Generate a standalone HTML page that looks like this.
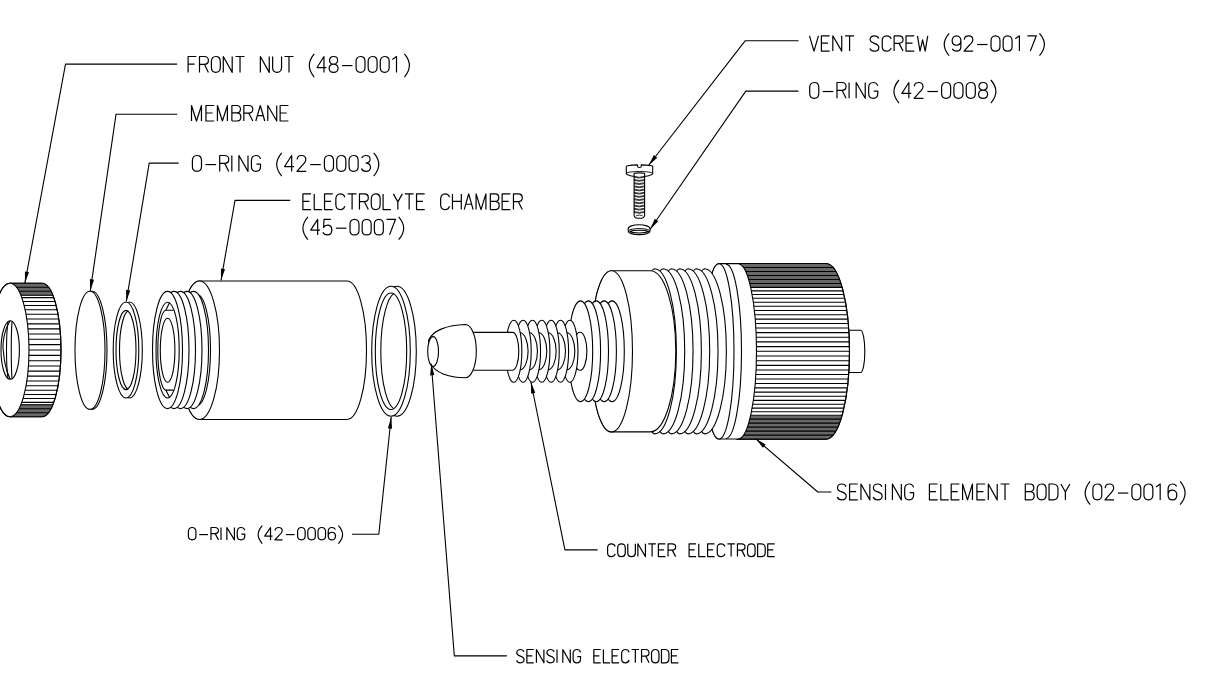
<!DOCTYPE html><html><head><meta charset="utf-8"><style>html,body{margin:0;padding:0;background:#fff;overflow:hidden;}svg{display:block}</style></head><body><svg width="1211" height="680" viewBox="0 0 1211 680" stroke="#000" stroke-width="1.1" stroke-linejoin="round" font-family="Liberation Sans, sans-serif"><clipPath id="k1"><path d="M10.00,283.30L42.00,283.30A19.00,66.70 0 0 1 42.00,416.70L10.00,416.70A19.00,66.70 0 0 1 10.00,283.30Z"/></clipPath><path d="M10.00,283.30L42.00,283.30A19.00,66.70 0 0 1 42.00,416.70L10.00,416.70A19.00,66.70 0 0 1 10.00,283.30Z" fill="#fff"/><g clip-path="url(#k1)"><rect x="-11" y="283.3" width="74" height="12.4" fill="#686868" stroke="none"/><rect x="-11" y="404.3" width="74" height="12.4" fill="#686868" stroke="none"/><path d="M-11.0,287.30H63.0M-11.0,412.70H63.0M-11.0,291.30H63.0M-11.0,408.70H63.0M-11.0,295.30H63.0M-11.0,404.70H63.0M-11.0,297.66H63.0M-11.0,301.43H63.0M-11.0,305.46H63.0M-11.0,309.74H63.0M-11.0,314.25H63.0M-11.0,318.97H63.0M-11.0,323.86H63.0M-11.0,328.90H63.0M-11.0,334.07H63.0M-11.0,339.32H63.0M-11.0,344.65H63.0M-11.0,350.00H63.0M-11.0,355.35H63.0M-11.0,360.68H63.0M-11.0,365.93H63.0M-11.0,371.10H63.0M-11.0,376.14H63.0M-11.0,381.03H63.0M-11.0,385.75H63.0M-11.0,390.26H63.0M-11.0,394.54H63.0M-11.0,398.57H63.0M-11.0,402.34H63.0" stroke-width="1.1"/></g><path d="M10.00,283.30L42.00,283.30A19.00,66.70 0 0 1 42.00,416.70L10.00,416.70A19.00,66.70 0 0 1 10.00,283.30Z" fill="none"/><ellipse cx="10.00" cy="350.00" rx="19.00" ry="66.70" fill="#fff" /><ellipse cx="10.20" cy="350.00" rx="9.20" ry="29.30" fill="#fff" /><path d="M10.2,320.7C4,330 2,345 3.5,352C4,362 7,372 10.2,379.3" fill="none"/><path d="M8,321.5C6,335 6,365 8,378.5" fill="none"/><path d="M12,321.5C11,335 11,365 12,378.5" fill="none"/><ellipse cx="92.00" cy="350.30" rx="15.00" ry="59.00" fill="#fff" /><ellipse cx="90.00" cy="350.30" rx="15.00" ry="59.00" fill="#fff" /><ellipse cx="129.50" cy="350.00" rx="12.80" ry="48.00" fill="#fff" /><ellipse cx="126.00" cy="350.00" rx="12.80" ry="48.00" fill="#fff" /><clipPath id="or1"><ellipse cx="126" cy="350" rx="10" ry="39.6"/></clipPath><ellipse cx="126.00" cy="350.00" rx="10.00" ry="39.60" fill="#fff" /><ellipse clip-path="url(#or1)" cx="129.5" cy="350" rx="10" ry="39.6" fill="none"/><path d="M199.50,281.00L347.00,281.00A19.50,69.25 0 0 1 347.00,419.50L199.50,419.50A20.00,69.25 0 0 1 199.50,281.00Z" fill="#fff"/><ellipse cx="199.50" cy="350.25" rx="20.00" ry="69.25" fill="#fff" /><ellipse cx="197.00" cy="350.00" rx="13.50" ry="55.50" fill="#fff" /><ellipse cx="193.50" cy="350.00" rx="15.00" ry="58.60" fill="#fff" /><ellipse cx="187.00" cy="350.00" rx="15.00" ry="58.60" fill="#fff" /><ellipse cx="180.50" cy="350.00" rx="15.00" ry="58.60" fill="#fff" /><ellipse cx="174.00" cy="350.00" rx="15.00" ry="58.60" fill="#fff" /><ellipse cx="167.50" cy="350.00" rx="15.00" ry="58.60" fill="#fff" /><ellipse cx="167.60" cy="350.10" rx="11.60" ry="47.90" fill="#fff" /><path d="M173.7,310.3H166A8.2,39.9 0 0 0 166,390.1H174.1" fill="#fff"/><path d="M169.6,302.6L165.8,310.3M169.6,397.6L165.8,390.1" fill="none"/><ellipse cx="167.60" cy="350.20" rx="7.30" ry="32.00" fill="#fff" /><ellipse cx="397.00" cy="351.25" rx="19.30" ry="65.00" fill="#fff" /><ellipse cx="391.00" cy="351.25" rx="19.30" ry="65.00" fill="#fff" /><clipPath id="or2"><ellipse cx="391" cy="351.25" rx="15.7" ry="58.3"/></clipPath><ellipse cx="391.00" cy="351.25" rx="15.70" ry="58.30" fill="#fff" /><ellipse clip-path="url(#or2)" cx="396.5" cy="351.25" rx="15.7" ry="58.3" fill="none"/><path d="M849.00,330.30L860.60,330.30A4.20,21.10 0 0 1 860.60,372.50L849.00,372.50A5.50,21.10 0 0 1 849.00,330.30Z" fill="#fff"/><clipPath id="k2"><path d="M738.00,263.50L826.00,263.50A23.50,87.80 0 0 1 826.00,439.10L738.00,439.10A18.50,87.80 0 0 1 738.00,263.50Z"/></clipPath><path d="M738.00,263.50L826.00,263.50A23.50,87.80 0 0 1 826.00,439.10L738.00,439.10A18.50,87.80 0 0 1 738.00,263.50Z" fill="#fff"/><g clip-path="url(#k2)"><rect x="717.5" y="263.5" width="134.0" height="23.5" fill="#686868" stroke="none"/><rect x="717.5" y="415.6" width="134.0" height="23.5" fill="#686868" stroke="none"/><path d="M717.5,267.50H851.5M717.5,435.10H851.5M717.5,271.50H851.5M717.5,431.10H851.5M717.5,275.50H851.5M717.5,427.10H851.5M717.5,279.50H851.5M717.5,423.10H851.5M717.5,283.50H851.5M717.5,419.10H851.5M717.5,287.36H851.5M717.5,290.86H851.5M717.5,294.52H851.5M717.5,298.31H851.5M717.5,302.23H851.5M717.5,306.28H851.5M717.5,310.45H851.5M717.5,314.72H851.5M717.5,319.08H851.5M717.5,323.53H851.5M717.5,328.04H851.5M717.5,332.62H851.5M717.5,337.25H851.5M717.5,341.91H851.5M717.5,346.60H851.5M717.5,351.30H851.5M717.5,356.00H851.5M717.5,360.69H851.5M717.5,365.35H851.5M717.5,369.98H851.5M717.5,374.56H851.5M717.5,379.07H851.5M717.5,383.52H851.5M717.5,387.88H851.5M717.5,392.15H851.5M717.5,396.32H851.5M717.5,400.37H851.5M717.5,404.29H851.5M717.5,408.08H851.5M717.5,411.74H851.5M717.5,415.24H851.5" stroke-width="1.1"/></g><path d="M738.00,263.50L826.00,263.50A23.50,87.80 0 0 1 826.00,439.10L738.00,439.10A18.50,87.80 0 0 1 738.00,263.50Z" fill="none"/><path d="M719.00,263.60L738.00,263.60A18.50,87.70 0 0 1 738.00,439.00L719.00,439.00A15.00,87.70 0 0 1 719.00,263.60Z" fill="#fff"/><ellipse cx="719.00" cy="351.30" rx="15.00" ry="87.70" fill="#fff" /><path d="M726.00,264.10A15.50,87.20 0 0 1 726.00,438.50" fill="none" /><path d="M704.68,268.70A21.7,82.6 0 0 1 704.68,433.90A12,82.6 0 0 1 704.68,268.70Z" fill="#fff"/><path d="M696.35,268.70A21.7,82.6 0 0 1 696.35,433.90A12,82.6 0 0 1 696.35,268.70Z" fill="#fff"/><path d="M688.02,268.70A21.7,82.6 0 0 1 688.02,433.90A12,82.6 0 0 1 688.02,268.70Z" fill="#fff"/><path d="M679.69,268.70A21.7,82.6 0 0 1 679.69,433.90A12,82.6 0 0 1 679.69,268.70Z" fill="#fff"/><path d="M671.36,268.70A21.7,82.6 0 0 1 671.36,433.90A12,82.6 0 0 1 671.36,268.70Z" fill="#fff"/><path d="M663.03,268.70A21.7,82.6 0 0 1 663.03,433.90A12,82.6 0 0 1 663.03,268.70Z" fill="#fff"/><path d="M654.70,268.70A21.7,82.6 0 0 1 654.70,433.90A12,82.6 0 0 1 654.70,268.70Z" fill="#fff"/><path d="M611.50,270.70L650.30,270.70A25.50,80.60 0 0 1 650.30,431.90L611.50,431.90A21.00,80.60 0 0 1 611.50,270.70Z" fill="#fff"/><ellipse cx="611.50" cy="351.30" rx="21.00" ry="80.60" fill="#fff" /><ellipse cx="612.10" cy="351.30" rx="12.20" ry="50.40" fill="#fff" /><ellipse cx="604.20" cy="351.30" rx="12.20" ry="50.40" fill="#fff" /><ellipse cx="596.30" cy="351.30" rx="12.20" ry="50.40" fill="#fff" /><ellipse cx="588.40" cy="351.30" rx="12.20" ry="50.40" fill="#fff" /><ellipse cx="580.50" cy="351.30" rx="12.20" ry="50.40" fill="#fff" /><ellipse cx="580.00" cy="351.30" rx="6.90" ry="19.00" fill="#fff" /><ellipse cx="569.85" cy="351.30" rx="8.10" ry="31.00" fill="#fff" /><ellipse cx="566.65" cy="351.30" rx="8.20" ry="18.50" fill="#fff" /><ellipse cx="560.50" cy="351.30" rx="8.10" ry="31.00" fill="#fff" /><ellipse cx="557.30" cy="351.30" rx="8.20" ry="18.50" fill="#fff" /><ellipse cx="551.15" cy="351.30" rx="8.10" ry="31.00" fill="#fff" /><ellipse cx="547.95" cy="351.30" rx="8.20" ry="18.50" fill="#fff" /><ellipse cx="541.80" cy="351.30" rx="8.10" ry="31.00" fill="#fff" /><ellipse cx="538.60" cy="351.30" rx="8.20" ry="18.50" fill="#fff" /><ellipse cx="532.45" cy="351.30" rx="8.10" ry="31.00" fill="#fff" /><ellipse cx="529.25" cy="351.30" rx="8.20" ry="18.50" fill="#fff" /><ellipse cx="523.10" cy="351.30" rx="8.10" ry="31.00" fill="#fff" /><ellipse cx="519.90" cy="351.30" rx="8.20" ry="18.50" fill="#fff" /><ellipse cx="513.75" cy="351.30" rx="8.10" ry="31.00" fill="#fff" /><path d="M474.00,332.40L512.60,332.40A6.20,18.90 0 0 1 512.60,370.20L474.00,370.20A6.00,18.90 0 0 1 474.00,332.40Z" fill="#fff"/><path d="M428.6,340C433,330.5 447,325 465.3,324.5A11,26.65 0 0 1 465.3,377.8C448,377.4 436,373 430.3,363.8Z" fill="#fff"/><ellipse cx="433.10" cy="351.50" rx="5.40" ry="14.90" fill="#fff" /><path d="M626.3,173.6V166.5C626.3,165.5 632,165 637.6,164.9V166.9Q639.4,168.2 641.2,166.9V164.9C647,165 652.7,165.5 652.7,166.5V173.6C652.7,175.2 646.5,176.6 639.5,176.6C632.5,176.6 626.3,175.2 626.3,173.6Z" fill="#fff"/><path d="M626.3,173.4C627,172.2 632.5,171.5 639.5,171.5C646.5,171.5 652,172.2 652.7,173.4" fill="none" stroke-width="0.9"/><path d="M634.1,173.3Q639.4,172.5 644.6,173.3V215.2C644.6,217.6 642.1,218.3 639.3,218.3C636.5,218.3 634.1,217.6 634.1,215.2Z" fill="#fff"/><path d="M634,176.30Q639.3,178.30 644.5,176.30M634,177.20Q639.3,178.90 644.5,177.20M634,179.50Q639.3,181.50 644.5,179.50M634,180.40Q639.3,182.10 644.5,180.40M634,182.70Q639.3,184.70 644.5,182.70M634,183.60Q639.3,185.30 644.5,183.60M634,185.90Q639.3,187.90 644.5,185.90M634,186.80Q639.3,188.50 644.5,186.80M634,189.10Q639.3,191.10 644.5,189.10M634,190.00Q639.3,191.70 644.5,190.00M634,192.30Q639.3,194.30 644.5,192.30M634,193.20Q639.3,194.90 644.5,193.20M634,195.50Q639.3,197.50 644.5,195.50M634,196.40Q639.3,198.10 644.5,196.40M634,198.70Q639.3,200.70 644.5,198.70M634,199.60Q639.3,201.30 644.5,199.60M634,201.90Q639.3,203.90 644.5,201.90M634,202.80Q639.3,204.50 644.5,202.80M634,205.10Q639.3,207.10 644.5,205.10M634,206.00Q639.3,207.70 644.5,206.00M634,208.30Q639.3,210.30 644.5,208.30M634,209.20Q639.3,210.90 644.5,209.20M634,211.50Q639.3,213.50 644.5,211.50M634,212.40Q639.3,214.10 644.5,212.40" fill="none" stroke-width="0.8"/><path d="M636,215.8Q639.3,214.2 642.6,215.8" fill="none" stroke-width="0.8"/><path d="M628.2,228.7C628.2,226.4 633.2,224.8 639.2,224.8C645.2,224.8 650,226.4 650,228.7V231C650,233.2 645.2,234.6 639.2,234.6C633.2,234.6 628.2,233.2 628.2,231Z" fill="#fff"/><path d="M628.4,231C629.5,229.5 634,228.6 639.2,228.6C644.4,228.6 648.9,229.5 649.9,231" fill="none" stroke-width="1"/><path d="M629.8,231.6C631.5,230.6 635,230.2 639.2,230.2C643.4,230.2 646.9,230.6 648.6,231.6C646.9,232.5 643.4,233 639.2,233C635,233 631.5,232.5 629.8,231.6Z" fill="#fff" stroke-width="1.1"/><path d="M177.20,64.10L65.50,64.10L24.90,283.10" fill="none" /><path d="M24.90,283.10L24.93,271.41L29.06,272.18Z" fill="#000" stroke="none"/><path d="M177.20,114.30L116.00,114.30L90.30,290.80" fill="none" /><path d="M90.30,290.80L89.88,279.12L94.04,279.72Z" fill="#000" stroke="none"/><path d="M178.60,163.10L149.20,163.10L126.30,301.50" fill="none" /><path d="M126.30,301.50L126.11,289.81L130.25,290.50Z" fill="#000" stroke="none"/><path d="M290.20,200.40L235.00,200.40L221.00,280.30" fill="none" /><path d="M221.00,280.30L220.92,268.61L225.05,269.34Z" fill="#000" stroke="none"/><path d="M352.00,534.20L378.80,534.20L391.20,417.00" fill="none" /><path d="M391.20,417.00L392.08,428.66L387.90,428.22Z" fill="#000" stroke="none"/><path d="M506.90,655.90L454.30,655.90L431.30,363.80" fill="none" /><path d="M431.30,363.80L434.30,375.10L430.11,375.43Z" fill="#000" stroke="none"/><path d="M597.60,549.90L564.90,549.90L530.90,382.00" fill="none" /><path d="M530.90,382.00L535.24,392.85L531.12,393.69Z" fill="#000" stroke="none"/><path d="M831.40,492.00L817.80,492.00L755.60,438.70" fill="none" /><path d="M755.60,438.70L765.70,444.59L762.97,447.78Z" fill="#000" stroke="none"/><path d="M798.50,40.80L745.10,40.80L648.50,165.50" fill="none" /><path d="M648.50,165.50L653.88,155.12L657.20,157.69Z" fill="#000" stroke="none"/><path d="M798.50,91.10L745.80,91.10L650.00,229.50" fill="none" /><path d="M650.00,229.50L654.82,218.85L658.27,221.24Z" fill="#000" stroke="none"/><g transform="translate(188.100,56.500) scale(0.9910,0.9353)" fill="none" stroke-width="1.2"><path transform="translate(0,0)" d="M0,17V0H8.3M0,8.2H6.6" vector-effect="non-scaling-stroke"/><path transform="translate(11.5,0)" d="M0,17V0H4.8C7.4,0 9,1.7 9,4.2C9,6.8 7.4,8.4 4.8,8.4H0M5,8.4L9,17" vector-effect="non-scaling-stroke"/><path transform="translate(23.5,0)" d="M4.5,0C1.6,0 0,2.4 0,5.2V11.8C0,14.6 1.6,17 4.5,17C7.4,17 9,14.6 9,11.8V5.2C9,2.4 7.4,0 4.5,0Z" vector-effect="non-scaling-stroke"/><path transform="translate(35.5,0)" d="M0,17V0L9,17V0" vector-effect="non-scaling-stroke"/><path transform="translate(47.9,0)" d="M0,0H9M4.5,0V17" vector-effect="non-scaling-stroke"/><path transform="translate(72.9,0)" d="M0,17V0L9,17V0" vector-effect="non-scaling-stroke"/><path transform="translate(85.30000000000001,0)" d="M0,0V11.8C0,14.6 1.6,17 4.5,17C7.4,17 9,14.6 9,11.8V0" vector-effect="non-scaling-stroke"/><path transform="translate(97.30000000000001,0)" d="M0,0H9M4.5,0V17" vector-effect="non-scaling-stroke"/><path transform="translate(122.30000000000001,0)" d="M5,-2.7C1.7,1.5 0,5.5 0,9.7C0,13.9 1.7,17.9 5,22.1" vector-effect="non-scaling-stroke"/><path transform="translate(130.10000000000002,0)" d="M7,17V0L0,11.8H9.4" vector-effect="non-scaling-stroke"/><path transform="translate(142.3,0)" d="M4.5,8.1C2,8.1 0.4,6.6 0.4,4.1C0.4,1.6 2,0 4.5,0C7,0 8.6,1.6 8.6,4.1C8.6,6.6 7,8.1 4.5,8.1C1.8,8.1 0,9.9 0,12.6C0,15.3 1.8,17 4.5,17C7.2,17 9,15.3 9,12.6C9,9.9 7.2,8.1 4.5,8.1Z" vector-effect="non-scaling-stroke"/><path transform="translate(154.5,0)" d="M0.9,9.7H11.4" vector-effect="non-scaling-stroke"/><path transform="translate(169.5,0)" d="M4.5,0C1.6,0 0,2.4 0,5.2V11.8C0,14.6 1.6,17 4.5,17C7.4,17 9,14.6 9,11.8V5.2C9,2.4 7.4,0 4.5,0Z" vector-effect="non-scaling-stroke"/><path transform="translate(181.7,0)" d="M4.5,0C1.6,0 0,2.4 0,5.2V11.8C0,14.6 1.6,17 4.5,17C7.4,17 9,14.6 9,11.8V5.2C9,2.4 7.4,0 4.5,0Z" vector-effect="non-scaling-stroke"/><path transform="translate(193.89999999999998,0)" d="M4.5,0C1.6,0 0,2.4 0,5.2V11.8C0,14.6 1.6,17 4.5,17C7.4,17 9,14.6 9,11.8V5.2C9,2.4 7.4,0 4.5,0Z" vector-effect="non-scaling-stroke"/><path transform="translate(206.09999999999997,0)" d="M0,3.2L4.2,0V17" vector-effect="non-scaling-stroke"/><path transform="translate(218.29999999999995,0)" d="M0,-2.7C3.3,1.5 5,5.5 5,9.7C5,13.9 3.3,17.9 0,22.1" vector-effect="non-scaling-stroke"/></g><g transform="translate(191.500,105.500) scale(0.9969,0.9118)" fill="none" stroke-width="1.2"><path transform="translate(0,0)" d="M0,17V0L5,17L10,0V17" vector-effect="non-scaling-stroke"/><path transform="translate(14.5,0)" d="M8.3,0H0V17H8.3M0,8.2H6.6" vector-effect="non-scaling-stroke"/><path transform="translate(26.0,0)" d="M0,17V0L5,17L10,0V17" vector-effect="non-scaling-stroke"/><path transform="translate(40.5,0)" d="M0,17V0H4.8C7.2,0 8.6,1.6 8.6,4.1C8.6,6.6 7.2,8.1 4.8,8.1H0M4.8,8.1C7.6,8.1 9,9.9 9,12.5C9,15.2 7.5,17 4.8,17H0" vector-effect="non-scaling-stroke"/><path transform="translate(52.5,0)" d="M0,17V0H4.8C7.4,0 9,1.7 9,4.2C9,6.8 7.4,8.4 4.8,8.4H0M5,8.4L9,17" vector-effect="non-scaling-stroke"/><path transform="translate(64.5,0)" d="M0,17L4.5,0L9,17M1.6,11.2H7.4" vector-effect="non-scaling-stroke"/><path transform="translate(76.5,0)" d="M0,17V0L9,17V0" vector-effect="non-scaling-stroke"/><path transform="translate(88.9,0)" d="M8.3,0H0V17H8.3M0,8.2H6.6" vector-effect="non-scaling-stroke"/></g><g transform="translate(192.400,155.500) scale(1.0108,0.9353)" fill="none" stroke-width="1.2"><path transform="translate(0,0)" d="M4.5,0C1.6,0 0,2.4 0,5.2V11.8C0,14.6 1.6,17 4.5,17C7.4,17 9,14.6 9,11.8V5.2C9,2.4 7.4,0 4.5,0Z" vector-effect="non-scaling-stroke"/><path transform="translate(12,0)" d="M0.9,9.7H11.4" vector-effect="non-scaling-stroke"/><path transform="translate(27,0)" d="M0,17V0H4.8C7.4,0 9,1.7 9,4.2C9,6.8 7.4,8.4 4.8,8.4H0M5,8.4L9,17" vector-effect="non-scaling-stroke"/><path transform="translate(39,0)" d="M0,0V17" vector-effect="non-scaling-stroke"/><path transform="translate(46,0)" d="M0,17V0L9,17V0" vector-effect="non-scaling-stroke"/><path transform="translate(58.4,0)" d="M9,3.6C8.4,1.3 6.8,0 4.5,0C1.6,0 0,2.4 0,5.2V11.8C0,14.6 1.6,17 4.5,17C7.4,17 9,14.6 9,11.8V9.2H5" vector-effect="non-scaling-stroke"/><path transform="translate(83.4,0)" d="M5,-2.7C1.7,1.5 0,5.5 0,9.7C0,13.9 1.7,17.9 5,22.1" vector-effect="non-scaling-stroke"/><path transform="translate(91.2,0)" d="M7,17V0L0,11.8H9.4" vector-effect="non-scaling-stroke"/><path transform="translate(103.4,0)" d="M0.2,4.2C0.4,1.6 2.2,0 4.5,0C7,0 8.8,1.7 8.8,4.3C8.8,6.8 7.4,8.5 5,10.8L0,17H9.2" vector-effect="non-scaling-stroke"/><path transform="translate(115.60000000000001,0)" d="M0.9,9.7H11.4" vector-effect="non-scaling-stroke"/><path transform="translate(130.60000000000002,0)" d="M4.5,0C1.6,0 0,2.4 0,5.2V11.8C0,14.6 1.6,17 4.5,17C7.4,17 9,14.6 9,11.8V5.2C9,2.4 7.4,0 4.5,0Z" vector-effect="non-scaling-stroke"/><path transform="translate(142.8,0)" d="M4.5,0C1.6,0 0,2.4 0,5.2V11.8C0,14.6 1.6,17 4.5,17C7.4,17 9,14.6 9,11.8V5.2C9,2.4 7.4,0 4.5,0Z" vector-effect="non-scaling-stroke"/><path transform="translate(155.0,0)" d="M4.5,0C1.6,0 0,2.4 0,5.2V11.8C0,14.6 1.6,17 4.5,17C7.4,17 9,14.6 9,11.8V5.2C9,2.4 7.4,0 4.5,0Z" vector-effect="non-scaling-stroke"/><path transform="translate(167.2,0)" d="M0.3,2.8C1,1 2.5,0 4.5,0C7,0 8.6,1.6 8.6,4.1C8.6,6.6 7,8.1 4.2,8.1M4.2,8.1C7.3,8.1 9,10 9,12.6C9,15.3 7.2,17 4.5,17C2.3,17 0.8,16 0,14" vector-effect="non-scaling-stroke"/><path transform="translate(179.39999999999998,0)" d="M0,-2.7C3.3,1.5 5,5.5 5,9.7C5,13.9 3.3,17.9 0,22.1" vector-effect="non-scaling-stroke"/></g><g transform="translate(302.900,193.900) scale(0.9839,0.9235)" fill="none" stroke-width="1.2"><path transform="translate(0,0)" d="M8.3,0H0V17H8.3M0,8.2H6.6" vector-effect="non-scaling-stroke"/><path transform="translate(11.5,0)" d="M0,0V17H8" vector-effect="non-scaling-stroke"/><path transform="translate(22.0,0)" d="M8.3,0H0V17H8.3M0,8.2H6.6" vector-effect="non-scaling-stroke"/><path transform="translate(33.5,0)" d="M9,3.6C8.4,1.3 6.8,0 4.5,0C1.6,0 0,2.4 0,5.2V11.8C0,14.6 1.6,17 4.5,17C6.8,17 8.4,15.7 9,13.4" vector-effect="non-scaling-stroke"/><path transform="translate(45.5,0)" d="M0,0H9M4.5,0V17" vector-effect="non-scaling-stroke"/><path transform="translate(57.5,0)" d="M0,17V0H4.8C7.4,0 9,1.7 9,4.2C9,6.8 7.4,8.4 4.8,8.4H0M5,8.4L9,17" vector-effect="non-scaling-stroke"/><path transform="translate(69.5,0)" d="M4.5,0C1.6,0 0,2.4 0,5.2V11.8C0,14.6 1.6,17 4.5,17C7.4,17 9,14.6 9,11.8V5.2C9,2.4 7.4,0 4.5,0Z" vector-effect="non-scaling-stroke"/><path transform="translate(81.5,0)" d="M0,0V17H8" vector-effect="non-scaling-stroke"/><path transform="translate(92.0,0)" d="M0,0L4.5,8.6L9,0M4.5,8.6V17" vector-effect="non-scaling-stroke"/><path transform="translate(103.5,0)" d="M0,0H9M4.5,0V17" vector-effect="non-scaling-stroke"/><path transform="translate(115.5,0)" d="M8.3,0H0V17H8.3M0,8.2H6.6" vector-effect="non-scaling-stroke"/><path transform="translate(140.0,0)" d="M9,3.6C8.4,1.3 6.8,0 4.5,0C1.6,0 0,2.4 0,5.2V11.8C0,14.6 1.6,17 4.5,17C6.8,17 8.4,15.7 9,13.4" vector-effect="non-scaling-stroke"/><path transform="translate(152.0,0)" d="M0,0V17M9,0V17M0,8.2H9" vector-effect="non-scaling-stroke"/><path transform="translate(164.0,0)" d="M0,17L4.5,0L9,17M1.6,11.2H7.4" vector-effect="non-scaling-stroke"/><path transform="translate(176.0,0)" d="M0,17V0L5,17L10,0V17" vector-effect="non-scaling-stroke"/><path transform="translate(190.5,0)" d="M0,17V0H4.8C7.2,0 8.6,1.6 8.6,4.1C8.6,6.6 7.2,8.1 4.8,8.1H0M4.8,8.1C7.6,8.1 9,9.9 9,12.5C9,15.2 7.5,17 4.8,17H0" vector-effect="non-scaling-stroke"/><path transform="translate(202.5,0)" d="M8.3,0H0V17H8.3M0,8.2H6.6" vector-effect="non-scaling-stroke"/><path transform="translate(214.0,0)" d="M0,17V0H4.8C7.4,0 9,1.7 9,4.2C9,6.8 7.4,8.4 4.8,8.4H0M5,8.4L9,17" vector-effect="non-scaling-stroke"/></g><g transform="translate(302.900,219.300) scale(0.9980,0.9176)" fill="none" stroke-width="1.2"><path transform="translate(0,0)" d="M5,-2.7C1.7,1.5 0,5.5 0,9.7C0,13.9 1.7,17.9 5,22.1" vector-effect="non-scaling-stroke"/><path transform="translate(7.8,0)" d="M7,17V0L0,11.8H9.4" vector-effect="non-scaling-stroke"/><path transform="translate(20.0,0)" d="M8,0H1.2L0.7,9C1.6,7.3 3,6.3 4.6,6.3C7.3,6.3 9,8.5 9,11.6C9,14.9 7.1,17 4.4,17C2.3,17 0.8,16 0,14.2" vector-effect="non-scaling-stroke"/><path transform="translate(32.2,0)" d="M0.9,9.7H11.4" vector-effect="non-scaling-stroke"/><path transform="translate(47.2,0)" d="M4.5,0C1.6,0 0,2.4 0,5.2V11.8C0,14.6 1.6,17 4.5,17C7.4,17 9,14.6 9,11.8V5.2C9,2.4 7.4,0 4.5,0Z" vector-effect="non-scaling-stroke"/><path transform="translate(59.400000000000006,0)" d="M4.5,0C1.6,0 0,2.4 0,5.2V11.8C0,14.6 1.6,17 4.5,17C7.4,17 9,14.6 9,11.8V5.2C9,2.4 7.4,0 4.5,0Z" vector-effect="non-scaling-stroke"/><path transform="translate(71.60000000000001,0)" d="M4.5,0C1.6,0 0,2.4 0,5.2V11.8C0,14.6 1.6,17 4.5,17C7.4,17 9,14.6 9,11.8V5.2C9,2.4 7.4,0 4.5,0Z" vector-effect="non-scaling-stroke"/><path transform="translate(83.80000000000001,0)" d="M0,0H9L3,17" vector-effect="non-scaling-stroke"/><path transform="translate(96.00000000000001,0)" d="M0,-2.7C3.3,1.5 5,5.5 5,9.7C5,13.9 3.3,17.9 0,22.1" vector-effect="non-scaling-stroke"/></g><g transform="translate(188.400,527.500) scale(0.8362,0.7294)" fill="none" stroke-width="1.2"><path transform="translate(0,0)" d="M4.5,0C1.6,0 0,2.4 0,5.2V11.8C0,14.6 1.6,17 4.5,17C7.4,17 9,14.6 9,11.8V5.2C9,2.4 7.4,0 4.5,0Z" vector-effect="non-scaling-stroke"/><path transform="translate(12,0)" d="M0.9,9.7H11.4" vector-effect="non-scaling-stroke"/><path transform="translate(27,0)" d="M0,17V0H4.8C7.4,0 9,1.7 9,4.2C9,6.8 7.4,8.4 4.8,8.4H0M5,8.4L9,17" vector-effect="non-scaling-stroke"/><path transform="translate(39,0)" d="M0,0V17" vector-effect="non-scaling-stroke"/><path transform="translate(46,0)" d="M0,17V0L9,17V0" vector-effect="non-scaling-stroke"/><path transform="translate(58.4,0)" d="M9,3.6C8.4,1.3 6.8,0 4.5,0C1.6,0 0,2.4 0,5.2V11.8C0,14.6 1.6,17 4.5,17C7.4,17 9,14.6 9,11.8V9.2H5" vector-effect="non-scaling-stroke"/><path transform="translate(83.4,0)" d="M5,-2.7C1.7,1.5 0,5.5 0,9.7C0,13.9 1.7,17.9 5,22.1" vector-effect="non-scaling-stroke"/><path transform="translate(91.2,0)" d="M7,17V0L0,11.8H9.4" vector-effect="non-scaling-stroke"/><path transform="translate(103.4,0)" d="M0.2,4.2C0.4,1.6 2.2,0 4.5,0C7,0 8.8,1.7 8.8,4.3C8.8,6.8 7.4,8.5 5,10.8L0,17H9.2" vector-effect="non-scaling-stroke"/><path transform="translate(115.60000000000001,0)" d="M0.9,9.7H11.4" vector-effect="non-scaling-stroke"/><path transform="translate(130.60000000000002,0)" d="M4.5,0C1.6,0 0,2.4 0,5.2V11.8C0,14.6 1.6,17 4.5,17C7.4,17 9,14.6 9,11.8V5.2C9,2.4 7.4,0 4.5,0Z" vector-effect="non-scaling-stroke"/><path transform="translate(142.8,0)" d="M4.5,0C1.6,0 0,2.4 0,5.2V11.8C0,14.6 1.6,17 4.5,17C7.4,17 9,14.6 9,11.8V5.2C9,2.4 7.4,0 4.5,0Z" vector-effect="non-scaling-stroke"/><path transform="translate(155.0,0)" d="M4.5,0C1.6,0 0,2.4 0,5.2V11.8C0,14.6 1.6,17 4.5,17C7.4,17 9,14.6 9,11.8V5.2C9,2.4 7.4,0 4.5,0Z" vector-effect="non-scaling-stroke"/><path transform="translate(167.2,0)" d="M8.6,2.6C7.9,0.9 6.4,0 4.4,0C1.7,0 0,2 0,5.5V11.7C0,14.8 1.8,17 4.4,17C7,17 8.8,14.8 8.8,11.7C8.8,8.6 7,6.5 4.4,6.5C1.8,6.5 0,8.6 0,11.7" vector-effect="non-scaling-stroke"/><path transform="translate(179.39999999999998,0)" d="M0,-2.7C3.3,1.5 5,5.5 5,9.7C5,13.9 3.3,17.9 0,22.1" vector-effect="non-scaling-stroke"/></g><g transform="translate(607.600,543.800) scale(0.8410,0.7529)" fill="none" stroke-width="1.2"><path transform="translate(0,0)" d="M9,3.6C8.4,1.3 6.8,0 4.5,0C1.6,0 0,2.4 0,5.2V11.8C0,14.6 1.6,17 4.5,17C6.8,17 8.4,15.7 9,13.4" vector-effect="non-scaling-stroke"/><path transform="translate(12,0)" d="M4.5,0C1.6,0 0,2.4 0,5.2V11.8C0,14.6 1.6,17 4.5,17C7.4,17 9,14.6 9,11.8V5.2C9,2.4 7.4,0 4.5,0Z" vector-effect="non-scaling-stroke"/><path transform="translate(24,0)" d="M0,0V11.8C0,14.6 1.6,17 4.5,17C7.4,17 9,14.6 9,11.8V0" vector-effect="non-scaling-stroke"/><path transform="translate(36,0)" d="M0,17V0L9,17V0" vector-effect="non-scaling-stroke"/><path transform="translate(48.4,0)" d="M0,0H9M4.5,0V17" vector-effect="non-scaling-stroke"/><path transform="translate(60.4,0)" d="M8.3,0H0V17H8.3M0,8.2H6.6" vector-effect="non-scaling-stroke"/><path transform="translate(71.9,0)" d="M0,17V0H4.8C7.4,0 9,1.7 9,4.2C9,6.8 7.4,8.4 4.8,8.4H0M5,8.4L9,17" vector-effect="non-scaling-stroke"/><path transform="translate(96.9,0)" d="M8.3,0H0V17H8.3M0,8.2H6.6" vector-effect="non-scaling-stroke"/><path transform="translate(108.4,0)" d="M0,0V17H8" vector-effect="non-scaling-stroke"/><path transform="translate(118.9,0)" d="M8.3,0H0V17H8.3M0,8.2H6.6" vector-effect="non-scaling-stroke"/><path transform="translate(130.4,0)" d="M9,3.6C8.4,1.3 6.8,0 4.5,0C1.6,0 0,2.4 0,5.2V11.8C0,14.6 1.6,17 4.5,17C6.8,17 8.4,15.7 9,13.4" vector-effect="non-scaling-stroke"/><path transform="translate(142.4,0)" d="M0,0H9M4.5,0V17" vector-effect="non-scaling-stroke"/><path transform="translate(154.4,0)" d="M0,17V0H4.8C7.4,0 9,1.7 9,4.2C9,6.8 7.4,8.4 4.8,8.4H0M5,8.4L9,17" vector-effect="non-scaling-stroke"/><path transform="translate(166.4,0)" d="M4.5,0C1.6,0 0,2.4 0,5.2V11.8C0,14.6 1.6,17 4.5,17C7.4,17 9,14.6 9,11.8V5.2C9,2.4 7.4,0 4.5,0Z" vector-effect="non-scaling-stroke"/><path transform="translate(178.4,0)" d="M0,0V17H4.2C7.2,17 9,14.8 9,11.8V5.2C9,2.2 7.2,0 4.2,0Z" vector-effect="non-scaling-stroke"/><path transform="translate(190.4,0)" d="M8.3,0H0V17H8.3M0,8.2H6.6" vector-effect="non-scaling-stroke"/></g><g transform="translate(516.600,649.500) scale(0.8297,0.7824)" fill="none" stroke-width="1.2"><path transform="translate(0,0)" d="M8.8,3C8.2,1 6.6,0 4.5,0C2,0 0.2,1.6 0.2,4.2C0.2,6.9 2.4,7.7 4.5,8.4C6.9,9.2 9,10.2 9,12.9C9,15.5 7.1,17 4.5,17C2.3,17 0.6,16 0,13.9" vector-effect="non-scaling-stroke"/><path transform="translate(12.4,0)" d="M8.3,0H0V17H8.3M0,8.2H6.6" vector-effect="non-scaling-stroke"/><path transform="translate(23.9,0)" d="M0,17V0L9,17V0" vector-effect="non-scaling-stroke"/><path transform="translate(36.3,0)" d="M8.8,3C8.2,1 6.6,0 4.5,0C2,0 0.2,1.6 0.2,4.2C0.2,6.9 2.4,7.7 4.5,8.4C6.9,9.2 9,10.2 9,12.9C9,15.5 7.1,17 4.5,17C2.3,17 0.6,16 0,13.9" vector-effect="non-scaling-stroke"/><path transform="translate(48.699999999999996,0)" d="M0,0V17" vector-effect="non-scaling-stroke"/><path transform="translate(55.699999999999996,0)" d="M0,17V0L9,17V0" vector-effect="non-scaling-stroke"/><path transform="translate(68.1,0)" d="M9,3.6C8.4,1.3 6.8,0 4.5,0C1.6,0 0,2.4 0,5.2V11.8C0,14.6 1.6,17 4.5,17C7.4,17 9,14.6 9,11.8V9.2H5" vector-effect="non-scaling-stroke"/><path transform="translate(93.1,0)" d="M8.3,0H0V17H8.3M0,8.2H6.6" vector-effect="non-scaling-stroke"/><path transform="translate(104.6,0)" d="M0,0V17H8" vector-effect="non-scaling-stroke"/><path transform="translate(115.1,0)" d="M8.3,0H0V17H8.3M0,8.2H6.6" vector-effect="non-scaling-stroke"/><path transform="translate(126.6,0)" d="M9,3.6C8.4,1.3 6.8,0 4.5,0C1.6,0 0,2.4 0,5.2V11.8C0,14.6 1.6,17 4.5,17C6.8,17 8.4,15.7 9,13.4" vector-effect="non-scaling-stroke"/><path transform="translate(138.6,0)" d="M0,0H9M4.5,0V17" vector-effect="non-scaling-stroke"/><path transform="translate(150.6,0)" d="M0,17V0H4.8C7.4,0 9,1.7 9,4.2C9,6.8 7.4,8.4 4.8,8.4H0M5,8.4L9,17" vector-effect="non-scaling-stroke"/><path transform="translate(162.6,0)" d="M4.5,0C1.6,0 0,2.4 0,5.2V11.8C0,14.6 1.6,17 4.5,17C7.4,17 9,14.6 9,11.8V5.2C9,2.4 7.4,0 4.5,0Z" vector-effect="non-scaling-stroke"/><path transform="translate(174.6,0)" d="M0,0V17H4.2C7.2,17 9,14.8 9,11.8V5.2C9,2.2 7.2,0 4.2,0Z" vector-effect="non-scaling-stroke"/><path transform="translate(186.6,0)" d="M8.3,0H0V17H8.3M0,8.2H6.6" vector-effect="non-scaling-stroke"/></g><g transform="translate(837.300,484.000) scale(0.9895,0.9353)" fill="none" stroke-width="1.2"><path transform="translate(0,0)" d="M8.8,3C8.2,1 6.6,0 4.5,0C2,0 0.2,1.6 0.2,4.2C0.2,6.9 2.4,7.7 4.5,8.4C6.9,9.2 9,10.2 9,12.9C9,15.5 7.1,17 4.5,17C2.3,17 0.6,16 0,13.9" vector-effect="non-scaling-stroke"/><path transform="translate(12.4,0)" d="M8.3,0H0V17H8.3M0,8.2H6.6" vector-effect="non-scaling-stroke"/><path transform="translate(23.9,0)" d="M0,17V0L9,17V0" vector-effect="non-scaling-stroke"/><path transform="translate(36.3,0)" d="M8.8,3C8.2,1 6.6,0 4.5,0C2,0 0.2,1.6 0.2,4.2C0.2,6.9 2.4,7.7 4.5,8.4C6.9,9.2 9,10.2 9,12.9C9,15.5 7.1,17 4.5,17C2.3,17 0.6,16 0,13.9" vector-effect="non-scaling-stroke"/><path transform="translate(48.699999999999996,0)" d="M0,0V17" vector-effect="non-scaling-stroke"/><path transform="translate(55.699999999999996,0)" d="M0,17V0L9,17V0" vector-effect="non-scaling-stroke"/><path transform="translate(68.1,0)" d="M9,3.6C8.4,1.3 6.8,0 4.5,0C1.6,0 0,2.4 0,5.2V11.8C0,14.6 1.6,17 4.5,17C7.4,17 9,14.6 9,11.8V9.2H5" vector-effect="non-scaling-stroke"/><path transform="translate(93.1,0)" d="M8.3,0H0V17H8.3M0,8.2H6.6" vector-effect="non-scaling-stroke"/><path transform="translate(104.6,0)" d="M0,0V17H8" vector-effect="non-scaling-stroke"/><path transform="translate(115.1,0)" d="M8.3,0H0V17H8.3M0,8.2H6.6" vector-effect="non-scaling-stroke"/><path transform="translate(126.6,0)" d="M0,17V0L5,17L10,0V17" vector-effect="non-scaling-stroke"/><path transform="translate(141.1,0)" d="M8.3,0H0V17H8.3M0,8.2H6.6" vector-effect="non-scaling-stroke"/><path transform="translate(152.6,0)" d="M0,17V0L9,17V0" vector-effect="non-scaling-stroke"/><path transform="translate(165.0,0)" d="M0,0H9M4.5,0V17" vector-effect="non-scaling-stroke"/><path transform="translate(190.0,0)" d="M0,17V0H4.8C7.2,0 8.6,1.6 8.6,4.1C8.6,6.6 7.2,8.1 4.8,8.1H0M4.8,8.1C7.6,8.1 9,9.9 9,12.5C9,15.2 7.5,17 4.8,17H0" vector-effect="non-scaling-stroke"/><path transform="translate(202.0,0)" d="M4.5,0C1.6,0 0,2.4 0,5.2V11.8C0,14.6 1.6,17 4.5,17C7.4,17 9,14.6 9,11.8V5.2C9,2.4 7.4,0 4.5,0Z" vector-effect="non-scaling-stroke"/><path transform="translate(214.0,0)" d="M0,0V17H4.2C7.2,17 9,14.8 9,11.8V5.2C9,2.2 7.2,0 4.2,0Z" vector-effect="non-scaling-stroke"/><path transform="translate(226.0,0)" d="M0,0L4.5,8.6L9,0M4.5,8.6V17" vector-effect="non-scaling-stroke"/><path transform="translate(250.5,0)" d="M5,-2.7C1.7,1.5 0,5.5 0,9.7C0,13.9 1.7,17.9 5,22.1" vector-effect="non-scaling-stroke"/><path transform="translate(258.3,0)" d="M4.5,0C1.6,0 0,2.4 0,5.2V11.8C0,14.6 1.6,17 4.5,17C7.4,17 9,14.6 9,11.8V5.2C9,2.4 7.4,0 4.5,0Z" vector-effect="non-scaling-stroke"/><path transform="translate(270.5,0)" d="M0.2,4.2C0.4,1.6 2.2,0 4.5,0C7,0 8.8,1.7 8.8,4.3C8.8,6.8 7.4,8.5 5,10.8L0,17H9.2" vector-effect="non-scaling-stroke"/><path transform="translate(282.7,0)" d="M0.9,9.7H11.4" vector-effect="non-scaling-stroke"/><path transform="translate(297.7,0)" d="M4.5,0C1.6,0 0,2.4 0,5.2V11.8C0,14.6 1.6,17 4.5,17C7.4,17 9,14.6 9,11.8V5.2C9,2.4 7.4,0 4.5,0Z" vector-effect="non-scaling-stroke"/><path transform="translate(309.9,0)" d="M4.5,0C1.6,0 0,2.4 0,5.2V11.8C0,14.6 1.6,17 4.5,17C7.4,17 9,14.6 9,11.8V5.2C9,2.4 7.4,0 4.5,0Z" vector-effect="non-scaling-stroke"/><path transform="translate(322.09999999999997,0)" d="M0,3.2L4.2,0V17" vector-effect="non-scaling-stroke"/><path transform="translate(334.29999999999995,0)" d="M8.6,2.6C7.9,0.9 6.4,0 4.4,0C1.7,0 0,2 0,5.5V11.7C0,14.8 1.8,17 4.4,17C7,17 8.8,14.8 8.8,11.7C8.8,8.6 7,6.5 4.4,6.5C1.8,6.5 0,8.6 0,11.7" vector-effect="non-scaling-stroke"/><path transform="translate(346.49999999999994,0)" d="M0,-2.7C3.3,1.5 5,5.5 5,9.7C5,13.9 3.3,17.9 0,22.1" vector-effect="non-scaling-stroke"/></g><g transform="translate(809.500,35.800) scale(0.9920,0.9000)" fill="none" stroke-width="1.2"><path transform="translate(0,0)" d="M0,0L4.5,17L9,0" vector-effect="non-scaling-stroke"/><path transform="translate(12,0)" d="M8.3,0H0V17H8.3M0,8.2H6.6" vector-effect="non-scaling-stroke"/><path transform="translate(23.5,0)" d="M0,17V0L9,17V0" vector-effect="non-scaling-stroke"/><path transform="translate(35.9,0)" d="M0,0H9M4.5,0V17" vector-effect="non-scaling-stroke"/><path transform="translate(60.9,0)" d="M8.8,3C8.2,1 6.6,0 4.5,0C2,0 0.2,1.6 0.2,4.2C0.2,6.9 2.4,7.7 4.5,8.4C6.9,9.2 9,10.2 9,12.9C9,15.5 7.1,17 4.5,17C2.3,17 0.6,16 0,13.9" vector-effect="non-scaling-stroke"/><path transform="translate(73.3,0)" d="M9,3.6C8.4,1.3 6.8,0 4.5,0C1.6,0 0,2.4 0,5.2V11.8C0,14.6 1.6,17 4.5,17C6.8,17 8.4,15.7 9,13.4" vector-effect="non-scaling-stroke"/><path transform="translate(85.3,0)" d="M0,17V0H4.8C7.4,0 9,1.7 9,4.2C9,6.8 7.4,8.4 4.8,8.4H0M5,8.4L9,17" vector-effect="non-scaling-stroke"/><path transform="translate(97.3,0)" d="M8.3,0H0V17H8.3M0,8.2H6.6" vector-effect="non-scaling-stroke"/><path transform="translate(108.8,0)" d="M0,0L2.6,17L5.2,4.5L7.8,17L10.4,0" vector-effect="non-scaling-stroke"/><path transform="translate(135.8,0)" d="M5,-2.7C1.7,1.5 0,5.5 0,9.7C0,13.9 1.7,17.9 5,22.1" vector-effect="non-scaling-stroke"/><path transform="translate(143.60000000000002,0)" d="M9,5.3C9,2.2 7.2,0 4.6,0C2,0 0.2,2.2 0.2,5.3C0.2,8.4 2,10.5 4.6,10.5C7.2,10.5 9,8.4 9,5.3V11.5C9,15 7.3,17 4.6,17C2.6,17 1.1,16.1 0.4,14.4" vector-effect="non-scaling-stroke"/><path transform="translate(155.8,0)" d="M0.2,4.2C0.4,1.6 2.2,0 4.5,0C7,0 8.8,1.7 8.8,4.3C8.8,6.8 7.4,8.5 5,10.8L0,17H9.2" vector-effect="non-scaling-stroke"/><path transform="translate(168.0,0)" d="M0.9,9.7H11.4" vector-effect="non-scaling-stroke"/><path transform="translate(183.0,0)" d="M4.5,0C1.6,0 0,2.4 0,5.2V11.8C0,14.6 1.6,17 4.5,17C7.4,17 9,14.6 9,11.8V5.2C9,2.4 7.4,0 4.5,0Z" vector-effect="non-scaling-stroke"/><path transform="translate(195.2,0)" d="M4.5,0C1.6,0 0,2.4 0,5.2V11.8C0,14.6 1.6,17 4.5,17C7.4,17 9,14.6 9,11.8V5.2C9,2.4 7.4,0 4.5,0Z" vector-effect="non-scaling-stroke"/><path transform="translate(207.39999999999998,0)" d="M0,3.2L4.2,0V17" vector-effect="non-scaling-stroke"/><path transform="translate(219.59999999999997,0)" d="M0,0H9L3,17" vector-effect="non-scaling-stroke"/><path transform="translate(231.79999999999995,0)" d="M0,-2.7C3.3,1.5 5,5.5 5,9.7C5,13.9 3.3,17.9 0,22.1" vector-effect="non-scaling-stroke"/></g><g transform="translate(809.700,82.500) scale(1.0098,0.9294)" fill="none" stroke-width="1.2"><path transform="translate(0,0)" d="M4.5,0C1.6,0 0,2.4 0,5.2V11.8C0,14.6 1.6,17 4.5,17C7.4,17 9,14.6 9,11.8V5.2C9,2.4 7.4,0 4.5,0Z" vector-effect="non-scaling-stroke"/><path transform="translate(12,0)" d="M0.9,9.7H11.4" vector-effect="non-scaling-stroke"/><path transform="translate(27,0)" d="M0,17V0H4.8C7.4,0 9,1.7 9,4.2C9,6.8 7.4,8.4 4.8,8.4H0M5,8.4L9,17" vector-effect="non-scaling-stroke"/><path transform="translate(39,0)" d="M0,0V17" vector-effect="non-scaling-stroke"/><path transform="translate(46,0)" d="M0,17V0L9,17V0" vector-effect="non-scaling-stroke"/><path transform="translate(58.4,0)" d="M9,3.6C8.4,1.3 6.8,0 4.5,0C1.6,0 0,2.4 0,5.2V11.8C0,14.6 1.6,17 4.5,17C7.4,17 9,14.6 9,11.8V9.2H5" vector-effect="non-scaling-stroke"/><path transform="translate(83.4,0)" d="M5,-2.7C1.7,1.5 0,5.5 0,9.7C0,13.9 1.7,17.9 5,22.1" vector-effect="non-scaling-stroke"/><path transform="translate(91.2,0)" d="M7,17V0L0,11.8H9.4" vector-effect="non-scaling-stroke"/><path transform="translate(103.4,0)" d="M0.2,4.2C0.4,1.6 2.2,0 4.5,0C7,0 8.8,1.7 8.8,4.3C8.8,6.8 7.4,8.5 5,10.8L0,17H9.2" vector-effect="non-scaling-stroke"/><path transform="translate(115.60000000000001,0)" d="M0.9,9.7H11.4" vector-effect="non-scaling-stroke"/><path transform="translate(130.60000000000002,0)" d="M4.5,0C1.6,0 0,2.4 0,5.2V11.8C0,14.6 1.6,17 4.5,17C7.4,17 9,14.6 9,11.8V5.2C9,2.4 7.4,0 4.5,0Z" vector-effect="non-scaling-stroke"/><path transform="translate(142.8,0)" d="M4.5,0C1.6,0 0,2.4 0,5.2V11.8C0,14.6 1.6,17 4.5,17C7.4,17 9,14.6 9,11.8V5.2C9,2.4 7.4,0 4.5,0Z" vector-effect="non-scaling-stroke"/><path transform="translate(155.0,0)" d="M4.5,0C1.6,0 0,2.4 0,5.2V11.8C0,14.6 1.6,17 4.5,17C7.4,17 9,14.6 9,11.8V5.2C9,2.4 7.4,0 4.5,0Z" vector-effect="non-scaling-stroke"/><path transform="translate(167.2,0)" d="M4.5,8.1C2,8.1 0.4,6.6 0.4,4.1C0.4,1.6 2,0 4.5,0C7,0 8.6,1.6 8.6,4.1C8.6,6.6 7,8.1 4.5,8.1C1.8,8.1 0,9.9 0,12.6C0,15.3 1.8,17 4.5,17C7.2,17 9,15.3 9,12.6C9,9.9 7.2,8.1 4.5,8.1Z" vector-effect="non-scaling-stroke"/><path transform="translate(179.39999999999998,0)" d="M0,-2.7C3.3,1.5 5,5.5 5,9.7C5,13.9 3.3,17.9 0,22.1" vector-effect="non-scaling-stroke"/></g></svg></body></html>
